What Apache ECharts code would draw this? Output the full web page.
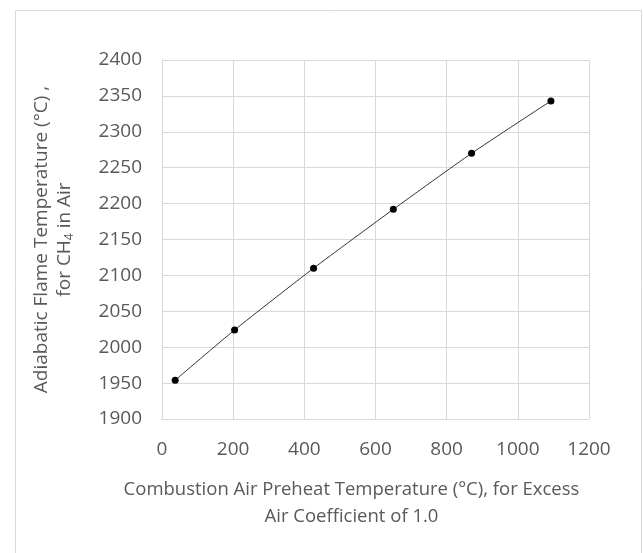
<!DOCTYPE html>
<html>
<head>
<meta charset="utf-8">
<script src="https://cdn.jsdelivr.net/npm/echarts@6/dist/echarts.min.js"></script>
<style>
html,body{margin:0;padding:0;background:#fff;}
#chart{width:643px;height:553px;}
</style>
</head>
<body>
<div id="chart"></div>
<script>
// Data
const preheatTemps = [37, 204, 426, 650, 870, 1093];
const flameTemps = [1954, 2024, 2110, 2192, 2270, 2343];
const xTicks = [0, 200, 400, 600, 800, 1000, 1200];
const yTicks = [1900, 1950, 2000, 2050, 2100, 2150, 2200, 2250, 2300, 2350, 2400];
const xTitleLines = ['Combustion Air Preheat Temperature (°C), for Excess', 'Air Coefficient of 1.0'];
const yTitleLine1 = 'Adiabatic Flame Temperature (°C) ,';
const yTitleLine2 = ['for CH', '4', ' in Air'];

const FONT = 'Open Sans';
const TXT = '#595959';

const chart = echarts.init(document.getElementById('chart'));
chart.setOption({
  backgroundColor: '#fff',
  animation: false,
  graphic: [{
    type: 'rect',
    shape: {x: 15.5, y: 10.5, width: 626, height: 560},
    style: {fill: 'none', stroke: '#d9d9d9', lineWidth: 1},
    silent: true
  }],
  grid: {left: 162, right: 54, top: 60, bottom: 134},
  xAxis: {
    type: 'value',
    min: xTicks[0], max: xTicks[xTicks.length - 1], interval: 200,
    name: xTitleLines.join('\n'),
    nameLocation: 'middle',
    nameGap: 57,
    nameTextStyle: {color: TXT, fontFamily: FONT, fontSize: 18.5, lineHeight: 27, padding: [0, 48, 0, 0]},
    axisLine: {show: true, lineStyle: {color: '#d9d9d9', width: 1}},
    axisTick: {show: false},
    axisLabel: {color: TXT, fontFamily: FONT, fontSize: 19, margin: 21, formatter: v => String(v)},
    splitLine: {show: true, lineStyle: {color: '#d9d9d9', width: 1}}
  },
  yAxis: {
    type: 'value',
    min: yTicks[0], max: yTicks[yTicks.length - 1], interval: 50,
    name: '{a|' + yTitleLine1 + '}\n{a|' + yTitleLine2[0] + '}{s|' + yTitleLine2[1] + '}{a|' + yTitleLine2[2] + '}',
    nameLocation: 'middle',
    nameRotate: 90,
    nameGap: 86,
    nameTextStyle: {
      color: TXT, fontFamily: FONT, fontSize: 19, lineHeight: 23,
      rich: {
        a: {color: TXT, fontFamily: FONT, fontSize: 19, lineHeight: 23},
        s: {color: TXT, fontFamily: FONT, fontSize: 12, lineHeight: 23, verticalAlign: 'bottom', padding: [9, 0, 0, 0]}
      }
    },
    axisLine: {show: true, lineStyle: {color: '#d9d9d9', width: 1}},
    axisTick: {show: false},
    axisLabel: {color: TXT, fontFamily: FONT, fontSize: 19, margin: 20, formatter: v => String(v)},
    splitLine: {show: true, lineStyle: {color: '#d9d9d9', width: 1}}
  },
  series: [{
    type: 'line',
    data: preheatTemps.map((x, i) => [x, flameTemps[i]]),
    smooth: 0.2,
    symbol: 'circle',
    symbolSize: 7,
    lineStyle: {color: '#333', width: 1},
    itemStyle: {color: '#000'}
  }]
});
</script>
</body>
</html>
